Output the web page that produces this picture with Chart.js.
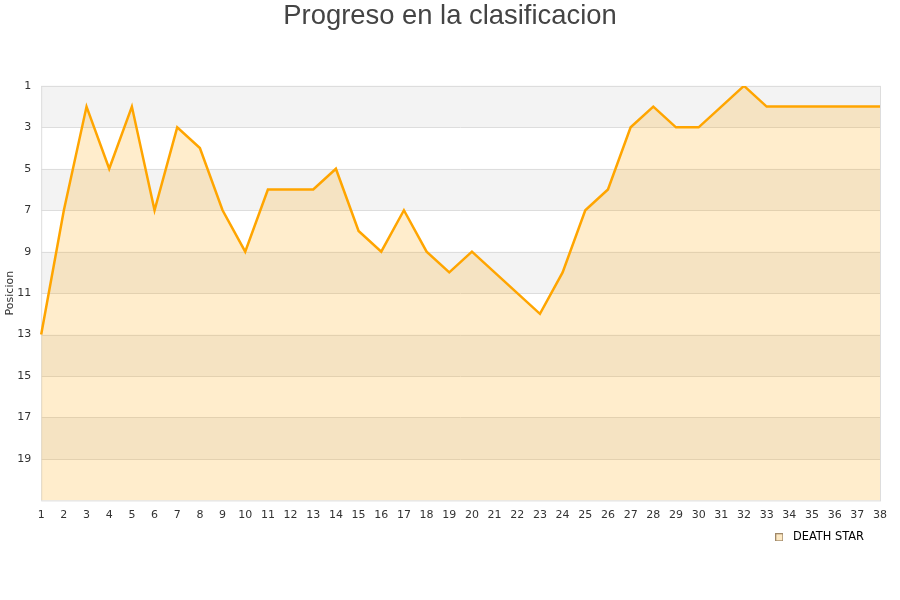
<!DOCTYPE html>
<html lang="es">
  <head>
    <meta charset="UTF-8" />
    <title>Progreso en la clasificacion</title>
    <style>
      body { margin: 0; background: #fff; }
      .chart { width: 900px; height: 600px; }
    </style>
  </head>
  <body>
    <script src="https://cdn.jsdelivr.net/npm/chart.js"></script>
    <div class="chart"><canvas id="chart"></canvas></div>

    <script>
      // jornadas 1..38
      const jornadas = [];
      for (let j = 1; j <= 38; j++) jornadas.push(String(j));

      // posicion en cada jornada
      const posiciones = [
        13, 7, 2, 5, 2, 7, 3, 4, 7, 9,
        6, 6, 6, 5, 8, 9, 7, 9, 10, 9,
        10, 11, 12, 10, 7, 6, 3, 2, 3, 3,
        2, 1, 2, 2, 2, 2, 2, 2,
      ];

      const equipo = "DEATH STAR";
      const yTicks = [1, 3, 5, 7, 9, 11, 13, 15, 17, 19];

      // cuadradito de la leyenda
      const cuadro = document.createElement("canvas");
      cuadro.width = 8;
      cuadro.height = 8;
      const cc = cuadro.getContext("2d");
      cc.fillStyle = "#fde9c4";
      cc.fillRect(0, 0, 8, 8);
      cc.strokeStyle = "#a08868";
      cc.strokeRect(0.5, 0.5, 7, 7);

      // bandas grises alternas + marco
      const bandas = {
        id: "bandas",
        beforeDatasetsDraw(chart) {
          const { ctx, chartArea: a, scales } = chart;
          const y = scales.y;
          ctx.save();
          ctx.fillStyle = "#f3f3f3";
          for (let v = 1; v < 21; v += 4) {
            const y1 = y.getPixelForValue(v);
            const y2 = y.getPixelForValue(v + 2);
            ctx.fillRect(a.left, y1, a.right - a.left, y2 - y1);
          }
          ctx.strokeStyle = "#dddddd";
          ctx.lineWidth = 1;
          for (const v of yTicks) {
            const py = Math.round(y.getPixelForValue(v)) + 0.5;
            ctx.beginPath();
            ctx.moveTo(a.left, py);
            ctx.lineTo(a.right, py);
            ctx.stroke();
          }
          ctx.strokeRect(a.left + 0.5, a.top + 0.5, a.right - a.left, a.bottom - a.top);
          ctx.restore();
        },
      };

      // titulo centrado en el lienzo, leyenda un poco a la izquierda
      const ajustes = {
        id: "ajustes",
        afterLayout(chart) {
          const t = chart.titleBlock;
          if (t) { t.left += 8; t.right += 8; }
          const l = chart.legend;
          if (l) { l.left -= 6; l.right -= 6; }
        },
      };

      const ctx = document.getElementById("chart");
      new Chart(ctx, {
        type: "line",
        data: {
          labels: jornadas,
          datasets: [
            {
              label: equipo,
              data: posiciones,
              borderColor: "#ffa500",
              backgroundColor: "rgba(255, 165, 0, 0.2)",
              borderWidth: 2.5,
              pointRadius: 0,
              tension: 0,
              fill: "start",
            },
          ],
        },
        options: {
          maintainAspectRatio: false,
          animation: false,
          layout: { padding: { left: 4, right: 20, top: 0, bottom: 47 } },
          plugins: {
            title: {
              display: true,
              text: "Progreso en la clasificacion",
              color: "#444",
              font: { family: "Liberation Sans", size: 27.4, weight: "normal" },
              padding: { top: 0, bottom: 53 },
            },
            legend: {
              position: "bottom",
              align: "end",
              labels: {
                color: "#000",
                usePointStyle: true,
                pointStyleWidth: 16,
                boxHeight: 8,
                font: { family: "DejaVu Sans", size: 11.4 },
                generateLabels: (chart) => [
                  {
                    text: equipo,
                    pointStyle: cuadro,
                    fillStyle: "#fde9c4",
                    strokeStyle: "#a08868",
                    lineWidth: 1,
                    datasetIndex: 0,
                  },
                ],
              },
            },
            tooltip: { enabled: false },
          },
          scales: {
            x: {
              offset: false,
              grid: { display: false },
              border: { display: false },
              ticks: {
                color: "#333",
                font: { family: "DejaVu Sans", size: 11 },
                maxRotation: 0,
                autoSkip: false,
                padding: 0,
              },
            },
            y: {
              reverse: true,
              min: 1,
              max: 21,
              grid: { display: false, drawTicks: true, tickLength: 10 },
              border: { display: false },
              afterBuildTicks: (axis) => {
                axis.ticks = yTicks.map((v) => ({ value: v }));
              },
              ticks: {
                color: "#333",
                font: { family: "DejaVu Sans", size: 11 },
                padding: 0,
              },
              title: {
                display: true,
                text: "Posicion",
                color: "#333",
                font: { family: "DejaVu Sans", size: 11 },
                padding: 0,
              },
            },
          },
        },
        plugins: [bandas, ajustes],
      });
    </script>
  </body>
</html>
